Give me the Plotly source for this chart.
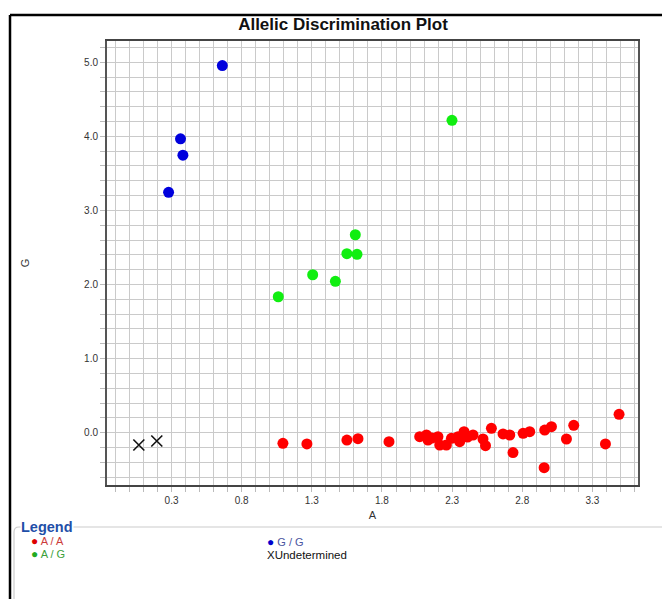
import plotly.graph_objects as go

# Allele A signal (x) and allele G signal (y) per call group
aa_x = [1.094, 1.265, 1.55, 1.629, 1.85, 2.069, 2.117, 2.128, 2.156, 2.199, 2.212,
        2.259, 2.295, 2.342, 2.354, 2.385, 2.41, 2.449, 2.52, 2.538, 2.58, 2.663,
        2.711, 2.734, 2.806, 2.853, 2.956, 2.96, 3.008, 3.115, 3.167, 3.393, 3.49]
aa_y = [-0.143, -0.152, -0.099, -0.081, -0.121, -0.054, -0.031, -0.099, -0.072, -0.054, -0.166,
        -0.166, -0.076, -0.054, -0.121, 0.013, -0.058, -0.031, -0.085, -0.175, 0.059, -0.017,
        -0.031, -0.269, -0.008, 0.014, -0.472, 0.036, 0.081, -0.085, 0.10, -0.152, 0.248]

ag_x = [2.299, 1.61, 1.55, 1.622, 1.306, 1.468, 1.061]
ag_y = [4.216, 2.672, 2.416, 2.407, 2.132, 2.043, 1.835]

gg_x = [0.662, 0.364, 0.381, 0.279]
gg_y = [4.955, 3.966, 3.746, 3.245]

und_x = [0.067, 0.195]
und_y = [-0.166, -0.112]

x_range = [-0.16, 3.625]
y_range = [-0.706, 5.287]

W, H = 662, 599
ML, MR, MT, MB = 107, 24, 41, 114
PW, PH = W - ML - MR, H - MT - MB


def px(x):
    return (x - ML) / PW


def py(y):
    return (H - MB - y) / PH


fig = go.Figure()
fig.add_trace(go.Scatter(x=aa_x, y=aa_y, mode="markers", name="A / A",
                         marker=dict(color="#ff0000", size=11, line=dict(width=0))))
fig.add_trace(go.Scatter(x=ag_x, y=ag_y, mode="markers", name="A / G",
                         marker=dict(color="#11ee11", size=11, line=dict(width=0))))
fig.add_trace(go.Scatter(x=gg_x, y=gg_y, mode="markers", name="G / G",
                         marker=dict(color="#0000dd", size=11, line=dict(width=0))))
fig.add_trace(go.Scatter(x=und_x, y=und_y, mode="markers", name="Undetermined",
                         marker=dict(color="#111111", size=11, symbol="x-thin-open",
                                     line=dict(width=1.6, color="#111111"))))

grid = "#cacaca"
axis_font = dict(family="Liberation Sans, Arial, sans-serif", size=10, color="#333333")

fig.update_xaxes(range=x_range, tick0=0.3, dtick=0.5, tickformat=".1f",
                 showgrid=True, gridcolor=grid, gridwidth=1, zeroline=False,
                 ticks="outside", ticklen=5, tickcolor="#bbbbbb",
                 minor=dict(tick0=0.3, dtick=0.1, showgrid=True, gridcolor=grid,
                            gridwidth=1, ticks="outside", ticklen=5, tickcolor="#bbbbbb"),
                 showline=True, linecolor="#444444", linewidth=2, mirror=True,
                 tickfont=axis_font,
                 title=dict(text="A", font=dict(family="Liberation Sans, Arial, sans-serif",
                                                size=11, color="#333333"), standoff=6))
fig.update_yaxes(range=y_range, tick0=0, dtick=1, tickformat=".1f",
                 showgrid=True, gridcolor=grid, gridwidth=1, zeroline=False,
                 ticks="outside", ticklen=5, tickcolor="#bbbbbb",
                 minor=dict(tick0=0, dtick=0.2, showgrid=True, gridcolor=grid,
                            gridwidth=1, ticks="outside", ticklen=5, tickcolor="#bbbbbb"),
                 showline=True, linecolor="#555555", linewidth=2, mirror=True,
                 tickfont=axis_font,
                 title=dict(text="G", font=dict(family="Liberation Sans, Arial, sans-serif",
                                                size=11, color="#333333"), standoff=52))

shapes = [
    # outer frame (top and left edges)
    dict(type="line", xref="paper", yref="paper", x0=px(10), x1=px(W + 5), y0=py(15), y1=py(15),
         line=dict(color="#000000", width=2.5)),
    dict(type="line", xref="paper", yref="paper", x0=px(10), x1=px(10), y0=py(15), y1=py(H + 5),
         line=dict(color="#000000", width=2.5)),
    # legend panel
    dict(type="path", xref="paper", yref="paper",
         path=(f"M {px(W + 5)},{py(527)} L {px(19)},{py(527)} "
               f"Q {px(14)},{py(527)} {px(14)},{py(532)} L {px(14)},{py(H + 5)}"),
         line=dict(color="#cccccc", width=1.2)),
]

lab_font = "Liberation Sans, Arial, sans-serif"


def entry(dot_color, text_color, label):
    return (f"<span style='color:{dot_color};font-size:12px'>●</span>"
            f"<span style='color:{text_color};font-size:11px'> {label}</span>")


col1 = entry("#dd0000", "#cc3b3b", "A / A") + "<br>" + entry("#22aa22", "#3aa03a", "A / G")
col2 = (entry("#0000cc", "#4a55a0", "G / G") + "<br>"
        "<span style='color:#111111;font-size:11.5px'>XUndetermined</span>")

annotations = [
    dict(text="<b>Legend</b>", x=px(20), y=py(527), xref="paper", yref="paper",
         xanchor="left", yanchor="middle", showarrow=False, bgcolor="#ffffff",
         font=dict(family=lab_font, size=14.5, color="#1f4fa8"), borderpad=0),
    dict(text=col1, x=px(29), y=py(547.5), xref="paper", yref="paper", xanchor="left",
         yanchor="middle", align="left", showarrow=False,
         font=dict(family=lab_font, size=10)),
    dict(text=col2, x=px(265), y=py(547.5), xref="paper", yref="paper", xanchor="left",
         yanchor="middle", align="left", showarrow=False,
         font=dict(family=lab_font, size=10)),
]

fig.update_layout(
    width=W, height=H,
    margin=dict(l=ML, r=MR, t=MT, b=MB, autoexpand=False),
    paper_bgcolor="#ffffff", plot_bgcolor="#ffffff",
    showlegend=False,
    title=dict(text="<b>Allelic Discrimination Plot</b>", x=343 / W, xanchor="center",
               xref="container", y=1 - 24 / H, yanchor="middle",
               font=dict(family=lab_font, size=17, color="#111111")),
    shapes=shapes,
    annotations=annotations,
)

fig.write_html("out.html")
